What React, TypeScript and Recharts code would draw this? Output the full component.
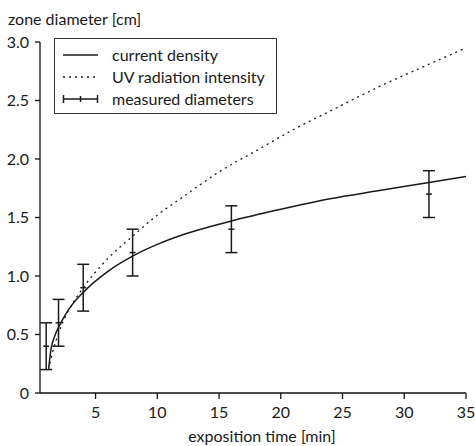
import {
  ComposedChart,
  Line,
  Scatter,
  ErrorBar,
  XAxis,
  YAxis,
  Legend,
} from "recharts";

// solid curve (current density)
const currentX = [1.2, 1.4, 1.7, 2, 2.5, 3, 4, 6, 8, 10, 12, 16, 20, 24, 28, 32, 35];
const currentY = [0.21, 0.38, 0.49, 0.56, 0.66, 0.74, 0.86, 1.04, 1.17, 1.27, 1.35, 1.47, 1.57, 1.66, 1.73, 1.8, 1.85];

// dotted curve (UV radiation intensity)
const uvX = [1.2, 1.5, 2, 2.5, 3, 4, 6, 8, 10, 12, 15, 18, 21, 24, 28, 32, 35];
const uvY = [0.2, 0.34, 0.51, 0.64, 0.74, 0.9, 1.15, 1.34, 1.52, 1.67, 1.89, 2.07, 2.25, 2.41, 2.62, 2.81, 2.95];

// measured diameters with error
const measuredX = [1, 2, 4, 8, 16, 32];
const measuredY = [0.4, 0.6, 0.9, 1.2, 1.4, 1.7];
const measuredErr = [0.2, 0.2, 0.2, 0.2, 0.2, 0.2];

const xTicks = [5, 10, 15, 20, 25, 30, 35];
const yTicks = [0, 0.5, 1, 1.5, 2, 2.5, 3];

const seriesNames = ["current density", "UV radiation intensity", "measured diameters"];

const currentData = currentX.map((x, i) => ({ x, y: currentY[i] }));
const uvData = uvX.map((x, i) => ({ x, y: uvY[i] }));
const measuredData = measuredX.map((x, i) => ({ x, y: measuredY[i], err: measuredErr[i] }));

const INK = "#1a1a1a";

function CenterTick(props: any) {
  const { cx, cy } = props;
  return <line x1={cx - 3} x2={cx + 3} y1={cy} y2={cy} stroke={INK} strokeWidth={1.5} />;
}

function LegendBox() {
  return (
    <svg width={223} height={76} style={{ display: "block" }}>
      <rect x={0.5} y={0.5} width={222} height={75} fill="#fff" stroke="#333" strokeWidth={1} />
      <line x1={9} x2={44} y1={17} y2={17} stroke={INK} strokeWidth={1.5} />
      <line x1={9} x2={44} y1={39} y2={39} stroke={INK} strokeWidth={1.3} strokeDasharray="2 4" />
      <line x1={9} x2={44} y1={61} y2={61} stroke={INK} strokeWidth={1.5} />
      <line x1={9.5} x2={9.5} y1={57} y2={65} stroke={INK} strokeWidth={1.5} />
      <line x1={43.5} x2={43.5} y1={57} y2={65} stroke={INK} strokeWidth={1.5} />
      <line x1={26.5} x2={26.5} y1={58} y2={64} stroke={INK} strokeWidth={1.5} />
      {seriesNames.map((n, i) => (
        <text key={n} x={58} y={17 + i * 22} dy="0.35em" fontSize={16} fill={INK}>
          {n}
        </text>
      ))}
    </svg>
  );
}

export default function App() {
  return (
    <div style={{ fontFamily: "Lato, sans-serif", width: 475, height: 446, position: "relative" }}>
      <style>{"body{margin:0}"}</style>
      <ComposedChart width={475} height={446} margin={{ top: 42, right: 9, bottom: 0, left: 0 }}>
        <XAxis
          type="number"
          dataKey="x"
          domain={[0.5, 35]}
          ticks={xTicks}
          allowDataOverflow
          height={53}
          tickSize={6}
          tickMargin={8}
          stroke="#111"
          strokeWidth={1.3}
          tick={{ fontSize: 16, fill: INK }}
          label={{ value: "exposition time [min]", position: "insideBottom", offset: 4, dx: 9, fontSize: 16, fill: INK }}
        />
        <YAxis
          type="number"
          domain={[0, 3]}
          ticks={yTicks}
          width={40}
          tickSize={5}
          tickMargin={6}
          stroke="#111"
          strokeWidth={1.3}
          tick={{ fontSize: 16, fill: INK }}
          tickFormatter={(v: number) => (v === 0 ? "0" : v.toFixed(1))}
          label={{
            content: () => (
              <text x={8} y={25} fontSize={16} fill={INK}>
                zone diameter [cm]
              </text>
            ),
          }}
        />
        <Legend
          layout="horizontal"
          verticalAlign="middle"
          align="center"
          content={() => <LegendBox />}
          wrapperStyle={{ position: "absolute", left: 54, top: 38, width: 223, height: 76 }}
        />
        <Line
          data={uvData}
          dataKey="y"
          name={seriesNames[1]}
          type="monotone"
          stroke={INK}
          strokeWidth={1.3}
          strokeDasharray="2 4"
          dot={false}
          isAnimationActive={false}
        />
        <Line
          data={currentData}
          dataKey="y"
          name={seriesNames[0]}
          type="monotone"
          stroke={INK}
          strokeWidth={1.5}
          dot={false}
          isAnimationActive={false}
        />
        <Scatter
          data={measuredData}
          dataKey="y"
          name={seriesNames[2]}
          shape={CenterTick}
          isAnimationActive={false}
        >
          <ErrorBar dataKey="err" direction="y" width={6} stroke={INK} strokeWidth={1.5} />
        </Scatter>
      </ComposedChart>
    </div>
  );
}
